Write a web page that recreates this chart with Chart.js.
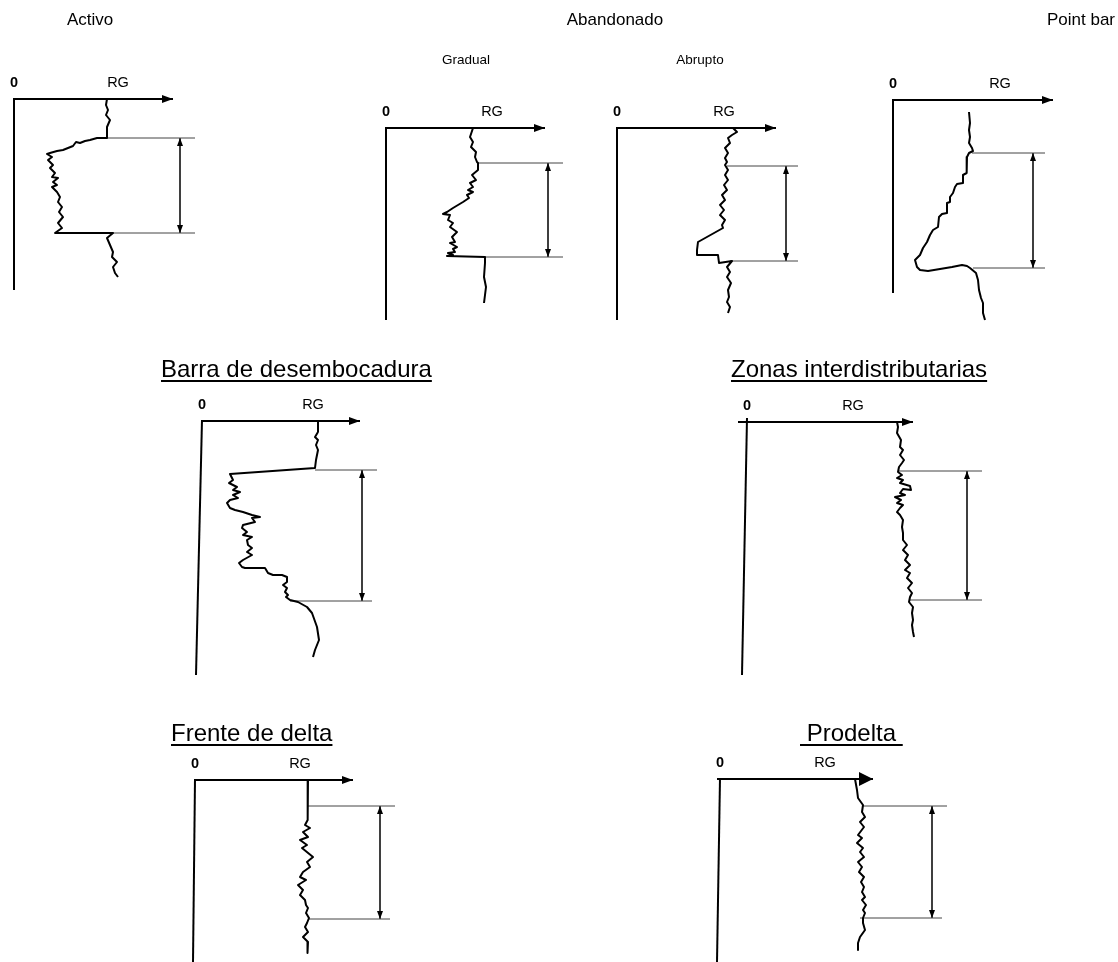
<!DOCTYPE html>
<html>
<head>
<meta charset="utf-8">
<script src="https://cdn.jsdelivr.net/npm/chart.js@4"></script>
<style>
body { margin: 0; background: #fff; }
#hoja { position: relative; width: 1118px; height: 962px; font-family: "Liberation Sans", Arial, sans-serif; color: #000; }
#hoja canvas { position: absolute; left: 0; top: 0; }
.t { position: absolute; white-space: nowrap; line-height: 1; transform: translate(-50%, -50%); }
.izq { transform: translate(0, -50%); }
.der { transform: translate(-100%, -50%); }
.titulo { font-size: 17px; }
.sub { font-size: 13.5px; }
.seccion { font-size: 24px; text-decoration: underline; text-underline-offset: 3px; }
.cero { font-size: 14.5px; font-weight: bold; }
.rg { font-size: 14.5px; }
</style>
</head>
<body>
<div id="hoja">
  <canvas id="grafica" width="1118" height="962"></canvas>
  <div class="t titulo izq" style="left:67px; top:19px">Activo</div>
  <div class="t titulo" style="left:615px; top:19px">Abandonado</div>
  <div class="t titulo der" style="left:1115px; top:19px">Point bar</div>
  <div class="t sub" style="left:466px; top:60px">Gradual</div>
  <div class="t sub" style="left:700px; top:60px">Abrupto</div>
  <div class="t seccion izq" style="left:161px; top:369px">Barra de desembocadura</div>
  <div class="t seccion izq" style="left:731px; top:369px">Zonas interdistributarias</div>
  <div class="t seccion izq" style="left:171px; top:733px">Frente de delta</div>
  <div class="t seccion izq" style="left:800px; top:733px">&nbsp;Prodelta&nbsp;</div>
</div>
<script>
// PERFILES DE RAYOS GAMMA (RG)
// Cada perfil: profundidad (hacia abajo desde el eje RG) y lectura de RG (desde el eje 0)

// Activo (canal activo, base abrupta y tope abrupto)
const activoProf = [0, 6, 11, 16, 21, 28, 39, 39, 41, 42, 44, 43, 47, 49, 51, 52, 54, 55, 58, 61, 66, 69, 74, 78, 79, 83, 86, 88, 93, 98, 103, 108, 113, 118, 124, 129, 134, 134, 139, 146, 153, 158, 163, 168, 174, 178];
const activoRG = [93, 92, 94, 92, 96, 93, 93, 83, 76, 71, 66, 62, 59, 54, 49, 43, 36, 33, 38, 34, 39, 36, 41, 38, 44, 39, 43, 38, 43, 46, 44, 48, 45, 49, 44, 48, 41, 99, 93, 96, 99, 98, 103, 99, 101, 104];

// Abandonado gradual
const gradualProf = [0, 9, 14, 19, 24, 29, 34, 35, 42, 47, 52, 55, 59, 62, 64, 67, 70, 74, 77, 80, 84, 86, 87, 92, 95, 99, 104, 109, 114, 115, 119, 121, 124, 125, 127, 128, 129, 135, 149, 159, 175];
const gradualRG = [87, 84, 87, 85, 90, 89, 91, 92, 92, 86, 90, 84, 87, 82, 87, 81, 83, 77, 72, 67, 61, 57, 64, 62, 67, 64, 71, 66, 69, 64, 71, 67, 69, 62, 67, 61, 99, 99, 98, 100, 98];

// Abandonado abrupto
const abruptoProf = [0, 4, 7, 10, 15, 20, 25, 30, 34, 37, 42, 47, 52, 57, 62, 67, 72, 77, 82, 87, 92, 97, 100, 114, 122, 127, 127, 135, 133, 139, 144, 149, 155, 162, 169, 174, 179, 185];
const abruptoRG = [116, 120, 115, 111, 113, 108, 111, 108, 110, 108, 111, 108, 111, 107, 110, 105, 108, 103, 107, 103, 108, 105, 106, 81, 80, 80, 101, 102, 115, 110, 113, 110, 114, 111, 112, 110, 113, 111];

// Point bar
const pointBarProf = [12, 23, 30, 37, 43, 48, 51, 53, 57, 63, 70, 73, 75, 83, 84, 87, 93, 97, 102, 103, 113, 114, 117, 127, 130, 135, 142, 148, 155, 160, 167, 170, 171, 169, 167, 165, 166, 168, 173, 180, 190, 198, 203, 213, 220];
const pointBarRG = [76, 77, 76, 77, 76, 79, 80, 76, 74, 74, 73, 74, 70, 70, 64, 62, 60, 57, 57, 54, 54, 49, 46, 45, 40, 37, 34, 30, 27, 22, 24, 27, 35, 47, 59, 69, 74, 77, 83, 85, 86, 88, 90, 90, 92];

// Barra de desembocadura
const barraProf = [0, 11, 16, 19, 24, 29, 39, 47, 53, 59, 62, 66, 69, 71, 74, 77, 79, 82, 87, 89, 91, 94, 96, 97, 101, 104, 107, 111, 114, 116, 119, 124, 127, 131, 134, 139, 142, 146, 147, 147, 152, 154, 154, 156, 161, 164, 167, 171, 174, 176, 179, 181, 186, 192, 206, 219, 229, 236];
const barraRG = [116, 116, 113, 116, 114, 116, 114, 113, 28, 31, 27, 35, 31, 38, 31, 36, 28, 25, 28, 33, 41, 50, 58, 50, 53, 41, 40, 45, 41, 50, 45, 46, 50, 45, 50, 41, 37, 40, 43, 63, 66, 71, 80, 85, 85, 81, 85, 83, 86, 84, 88, 96, 105, 110, 115, 117, 113, 111];

// Zonas interdistributarias
const zonasProf = [0, 5, 11, 18, 25, 28, 33, 38, 41, 45, 50, 53, 56, 58, 61, 64, 68, 67, 71, 73, 75, 78, 81, 83, 86, 90, 93, 98, 105, 111, 118, 123, 128, 133, 138, 143, 148, 151, 156, 161, 166, 171, 175, 180, 185, 191, 198, 203, 210, 215];
const zonasRG = [150, 151, 150, 154, 153, 156, 153, 157, 155, 152, 151, 155, 150, 156, 153, 163, 164, 156, 153, 158, 148, 154, 150, 156, 153, 150, 153, 156, 155, 156, 156, 160, 156, 161, 158, 163, 158, 163, 160, 165, 161, 165, 163, 162, 166, 165, 166, 165, 166, 167];

// Frente de delta
const frenteProf = [0, 7, 13, 18, 27, 35, 40, 45, 48, 52, 57, 60, 65, 68, 77, 82, 87, 92, 97, 100, 105, 110, 115, 120, 125, 128, 133, 138, 143, 147, 152, 157, 162, 167, 173];
const frenteRG = [113, 113, 113, 112, 113, 112, 113, 110, 115, 108, 113, 105, 112, 107, 118, 112, 115, 108, 105, 111, 103, 108, 105, 110, 111, 113, 111, 114, 112, 110, 113, 108, 113, 112, 113];

// Prodelta
const prodeltaProf = [0, 11, 19, 26, 33, 38, 43, 48, 56, 59, 64, 69, 73, 78, 83, 88, 93, 98, 103, 108, 113, 118, 121, 126, 131, 134, 139, 144, 151, 158, 164, 171];
const prodeltaRG = [135, 137, 138, 143, 142, 145, 140, 144, 138, 142, 137, 143, 140, 144, 138, 142, 139, 144, 141, 144, 142, 145, 142, 146, 143, 145, 143, 143, 145, 140, 138, 138];

// Tope y base del cuerpo (profundidad de las lineas de la flecha doble)
const activoCuerpo = [39, 134];
const gradualCuerpo = [35, 129];
const abruptoCuerpo = [38, 133];
const pointBarCuerpo = [53, 168];
const barraCuerpo = [49, 180];
const zonasCuerpo = [49, 178];
const frenteCuerpo = [26, 139];
const prodeltaCuerpo = [27, 139];

// UBICACION DE CADA PERFIL EN LA HOJA (origen = esquina de los ejes)
// eje: inicio y punta del eje RG; fondo: extremo inferior del eje de profundidad
// tope/piso: extension de las lineas horizontales; flecha: posicion de la flecha doble
const paneles = [
	{ prof: activoProf, rg: activoRG, cuerpo: activoCuerpo, ox: 14, oy: 99, eje: [0, 159], fondo: [0, 191], tope: [93, 181], piso: [99, 181], flecha: 166, rgX: 104 },
	{ prof: gradualProf, rg: gradualRG, cuerpo: gradualCuerpo, ox: 386, oy: 128, eje: [0, 159], fondo: [0, 192], tope: [92, 177], piso: [99, 177], flecha: 162, rgX: 106 },
	{ prof: abruptoProf, rg: abruptoRG, cuerpo: abruptoCuerpo, ox: 617, oy: 128, eje: [0, 159], fondo: [0, 192], tope: [110, 181], piso: [113, 181], flecha: 169, rgX: 107 },
	{ prof: pointBarProf, rg: pointBarRG, cuerpo: pointBarCuerpo, ox: 893, oy: 100, eje: [0, 160], fondo: [0, 193], tope: [79, 152], piso: [80, 152], flecha: 140, rgX: 107 },
	{ prof: barraProf, rg: barraRG, cuerpo: barraCuerpo, ox: 202, oy: 421, eje: [0, 158], fondo: [-6, 254], tope: [113, 175], piso: [88, 170], flecha: 160, rgX: 111 },
	{ prof: zonasProf, rg: zonasRG, cuerpo: zonasCuerpo, ox: 747, oy: 422, eje: [-9, 166], fondo: [-5, 253], arriba: -4, tope: [151, 235], piso: [163, 235], flecha: 220, rgX: 106 },
	{ prof: frenteProf, rg: frenteRG, cuerpo: frenteCuerpo, ox: 195, oy: 780, eje: [0, 158], fondo: [-2, 182], tope: [113, 200], piso: [114, 195], flecha: 185, rgX: 105 },
	{ prof: prodeltaProf, rg: prodeltaRG, cuerpo: prodeltaCuerpo, ox: 720, oy: 779, eje: [-3, 153], fondo: [-3, 183], tope: [142, 227], piso: [140, 222], flecha: 212, rgX: 105, puntaGrande: true }
];

// Puntas de flecha (la punta queda en el centro de la imagen)
function punta(largo, ancho) {
	const c = document.createElement('canvas');
	c.width = largo * 2;
	c.height = ancho * 2 + 2;
	const g = c.getContext('2d');
	const m = c.height / 2;
	g.fillStyle = '#000';
	g.beginPath();
	g.moveTo(largo, m);
	g.lineTo(0, m - ancho);
	g.lineTo(0, m + ancho);
	g.closePath();
	g.fill();
	return c;
}
const puntaEje = punta(11, 4);
const puntaGrande = punta(14, 7);
const puntaChica = punta(8, 3);

const hoja = document.getElementById('hoja');
function etiqueta(txt, clase, x, y) {
	const d = document.createElement('div');
	d.className = 't ' + clase;
	d.textContent = txt;
	d.style.left = x + 'px';
	d.style.top = y + 'px';
	hoja.appendChild(d);
}

const datasets = [];
paneles.forEach(function (p) {
	const pt = function (g, d) { return { x: p.ox + g, y: p.oy + d }; };

	// Eje RG con flecha
	datasets.push({
		data: [pt(p.eje[0], 0), pt(p.eje[1], 0)],
		borderColor: '#000', borderWidth: 2,
		pointStyle: p.puntaGrande ? puntaGrande : puntaEje,
		pointRadius: [0, 3], pointRotation: 0
	});
	// Eje de profundidad
	datasets.push({
		data: [pt(0, p.arriba || -1), pt(p.fondo[0], p.fondo[1])],
		borderColor: '#000', borderWidth: 2, pointRadius: 0
	});
	// Curva de RG
	datasets.push({
		data: p.prof.map(function (d, i) { return pt(p.rg[i], d); }),
		borderColor: '#000', borderWidth: 2, pointRadius: 0, borderJoinStyle: 'round'
	});
	// Lineas de tope y base
	datasets.push({
		data: [pt(p.tope[0], p.cuerpo[0]), pt(p.tope[1], p.cuerpo[0])],
		borderColor: '#444', borderWidth: 1, pointRadius: 0
	});
	datasets.push({
		data: [pt(p.piso[0], p.cuerpo[1]), pt(p.piso[1], p.cuerpo[1])],
		borderColor: '#444', borderWidth: 1, pointRadius: 0
	});
	// Flecha doble del espesor
	datasets.push({
		data: [pt(p.flecha, p.cuerpo[0]), pt(p.flecha, p.cuerpo[1])],
		borderColor: '#000', borderWidth: 1.5,
		pointStyle: puntaChica, pointRadius: 3, pointRotation: [-90, 90]
	});

	etiqueta('0', 'cero', p.ox, p.oy - 17);
	etiqueta('RG', 'rg', p.ox + p.rgX, p.oy - 17);
});

datasets.forEach(function (ds) {
	ds.showLine = true;
	ds.fill = false;
	ds.tension = 0;
});

const grafica = new Chart(document.getElementById('grafica'), {
	type: 'scatter',
	data: { datasets: datasets },
	options: {
		responsive: false,
		animation: false,
		events: [],
		layout: { padding: 0, autoPadding: false },
		plugins: { legend: { display: false }, tooltip: { enabled: false } },
		scales: {
			x: { type: 'linear', min: 0, max: 1118, display: false },
			y: { type: 'linear', min: 0, max: 962, reverse: true, display: false }
		}
	}
});
</script>
</body>
</html>
